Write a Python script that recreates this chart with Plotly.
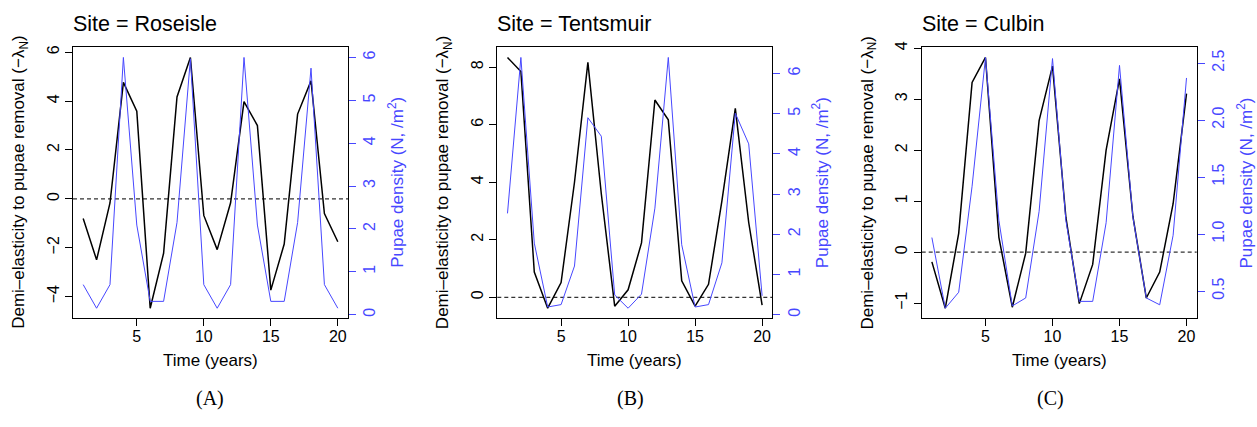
import numpy as np
import plotly.graph_objects as go

# ---- data -------------------------------------------------------------
years = list(range(1, 21))
sites = ["Roseisle", "Tentsmuir", "Culbin"]
panel_tags = ["(A)", "(B)", "(C)"]

# demi-elasticity of growth to pupae removal (-lambda_N)
demi_roseisle = [-0.81, -2.50, -0.17, 4.77, 3.59, -4.48, -2.23, 4.17, 5.79, -0.68,
                 -2.08, -0.16, 3.98, 3.00, -3.74, -1.85, 3.47, 4.83, -0.60, -1.76]
demi_tentsmuir = [8.34, 7.85, 0.88, -0.38, 0.51, 4.00, 8.17, 3.60, -0.31, 0.26,
                  1.89, 6.86, 6.17, 0.57, -0.31, 0.45, 3.35, 6.57, 2.60, -0.27]
demi_culbin = [-0.19, -1.10, 0.37, 3.33, 3.82, 0.29, -1.08, -0.02, 2.58, 3.65,
               0.68, -1.01, -0.24, 2.00, 3.40, 0.70, -0.90, -0.39, 0.95, 3.11]

# pupae density (N / m^2)
pupae_roseisle = [0.70, 0.15, 0.70, 6.00, 2.09, 0.31, 0.31, 2.15, 5.97, 0.70,
                  0.15, 0.70, 6.00, 2.09, 0.31, 0.31, 2.15, 5.75, 0.70, 0.15]
pupae_tentsmuir = [2.52, 6.40, 1.78, 0.19, 0.25, 1.21, 4.90, 4.44, 0.49, 0.16,
                   0.51, 2.65, 6.40, 1.74, 0.19, 0.25, 1.29, 5.01, 4.25, 0.47]
pupae_culbin = [0.97, 0.35, 0.49, 1.42, 2.55, 1.12, 0.37, 0.44, 1.20, 2.54,
                1.12, 0.41, 0.41, 1.10, 2.48, 1.15, 0.44, 0.38, 0.99, 2.37]

demi_series = [demi_roseisle, demi_tentsmuir, demi_culbin]
pupae_series = [pupae_roseisle, pupae_tentsmuir, pupae_culbin]

x_ticks = [5, 10, 15, 20]
left_ticks = [[-4, -2, 0, 2, 4, 6], [0, 2, 4, 6, 8], [-1, 0, 1, 2, 3, 4]]
right_ticks = [[0, 1, 2, 3, 4, 5, 6], [0, 1, 2, 3, 4, 5, 6], [0.5, 1.0, 1.5, 2.0, 2.5]]
right_fmt = ["d", "d", ".1f"]

# ---- styling ----------------------------------------------------------
W, H = 1257, 427
BLUE = "#4747ff"
FONT = "Liberation Sans, Arial, Helvetica, sans-serif"
SERIF = "Liberation Serif, Times New Roman, serif"
TICK_SIZE = 16
LABEL_SIZE = 17

# plot boxes in pixels (left, right); shared top/bottom
boxes = [(73, 348), (497.3, 772.3), (921.7, 1196.7)]
box_top, box_bottom = 42, 316.7
y_dom = [1 - box_bottom / H, 1 - box_top / H]


def padded(vals, frac=0.04):
    lo, hi = float(np.min(vals)), float(np.max(vals))
    d = hi - lo
    return [lo - frac * d, hi + frac * d]


fig = go.Figure()
layout = dict(
    width=W, height=H,
    margin=dict(l=0, r=0, t=0, b=0),
    paper_bgcolor="white", plot_bgcolor="white",
    showlegend=False,
    font=dict(family=FONT, size=14, color="black"),
)
annotations = []
shapes = []

for i, site in enumerate(sites):
    xname = "x" if i == 0 else f"x{i + 1}"
    yl = 2 * i + 1
    yr = 2 * i + 2
    ylname = "y" if yl == 1 else f"y{yl}"
    yrname = f"y{yr}"

    fig.add_trace(go.Scatter(
        x=years, y=demi_series[i], mode="lines",
        line=dict(color="black", width=1.5),
        xaxis=xname, yaxis=ylname, hoverinfo="skip"))
    fig.add_trace(go.Scatter(
        x=years, y=pupae_series[i], mode="lines",
        line=dict(color=BLUE, width=1),
        xaxis=xname, yaxis=yrname, hoverinfo="skip"))

    left_px, right_px = boxes[i]
    x_dom = [left_px / W, right_px / W]

    xkey = "xaxis" if i == 0 else f"xaxis{i + 1}"
    layout[xkey] = dict(
        domain=x_dom, anchor=ylname, range=padded(years),
        tickmode="array", tickvals=x_ticks,
        ticks="outside", ticklen=7, tickcolor="black", tickwidth=1,
        ticklabelstandoff=-3,
        showline=True, mirror=True, linecolor="black", linewidth=1,
        showgrid=False, zeroline=False,
        tickfont=dict(size=TICK_SIZE, color="black"),
    )
    ylkey = "yaxis" if yl == 1 else f"yaxis{yl}"
    layout[ylkey] = dict(
        domain=y_dom, anchor=xname, range=padded(demi_series[i]),
        tickmode="array", tickvals=left_ticks[i], tickangle=-90,
        ticks="outside", ticklen=7, tickcolor="black", tickwidth=1,
        showline=True, mirror=True, linecolor="black", linewidth=1,
        showgrid=False, zeroline=False,
        tickfont=dict(size=TICK_SIZE, color="black"),
    )
    layout[f"yaxis{yr}"] = dict(
        overlaying=ylname, side="right", anchor=xname,
        range=padded(pupae_series[i]),
        tickmode="array", tickvals=right_ticks[i], tickformat=right_fmt[i],
        tickangle=-90,
        ticks="outside", ticklen=7, tickcolor=BLUE, tickwidth=1,
        showline=False, showgrid=False, zeroline=False,
        tickfont=dict(size=TICK_SIZE, color=BLUE),
    )

    # dashed reference line at zero on the demi-elasticity scale
    shapes.append(dict(
        type="line", xref=f"{xname} domain", yref=ylname,
        x0=0, x1=1, y0=0, y1=0,
        line=dict(color="#333333", width=1.2, dash="4px,3px"), layer="below"))

    cx = (left_px + right_px) / 2
    # panel title
    annotations.append(dict(
        text=f"Site = {site}", x=(left_px - 2) / W, y=1 - 18.5 / H,
        xref="paper", yref="paper", xanchor="left", yanchor="middle",
        showarrow=False, font=dict(size=21.5, color="black", family=FONT)))
    # x-axis title
    annotations.append(dict(
        text="Time (years)", x=cx / W, y=1 - 360 / H,
        xref="paper", yref="paper", xanchor="center", yanchor="middle",
        showarrow=False, font=dict(size=LABEL_SIZE, color="black", family=FONT)))
    # left axis title
    annotations.append(dict(
        text="Demi–elasticity to pupae removal (−λ<sub>N</sub>)",
        x=(left_px - 53) / W, y=1 - (box_top + box_bottom) / 2 / H,
        xref="paper", yref="paper", xanchor="center", yanchor="middle",
        textangle=-90, showarrow=False,
        font=dict(size=LABEL_SIZE, color="black", family=FONT)))
    # right axis title
    annotations.append(dict(
        text="Pupae density (N, /m<sup>2</sup>)",
        x=(right_px + 48) / W, y=1 - (box_top + box_bottom) / 2 / H,
        xref="paper", yref="paper", xanchor="center", yanchor="middle",
        textangle=-90, showarrow=False,
        font=dict(size=LABEL_SIZE, color=BLUE, family=FONT)))
    # panel tag below
    annotations.append(dict(
        text=panel_tags[i], x=(210 + 420 * i) / W, y=1 - 398 / H,
        xref="paper", yref="paper", xanchor="center", yanchor="middle",
        showarrow=False, font=dict(size=20, color="black", family=SERIF)))

layout["annotations"] = annotations
layout["shapes"] = shapes
fig.update_layout(**layout)

fig.write_html("out.html")
